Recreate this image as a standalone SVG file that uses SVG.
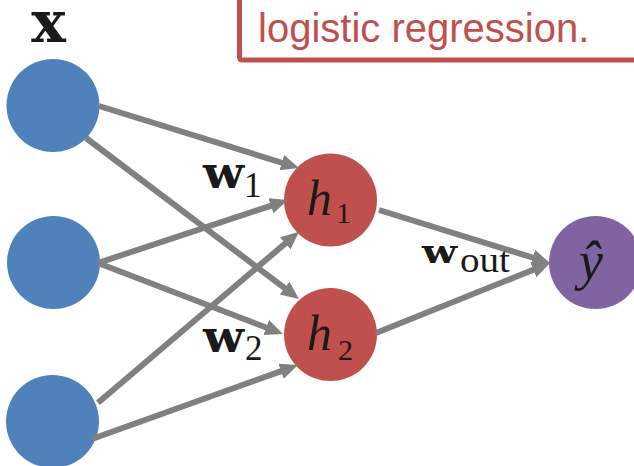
<svg xmlns="http://www.w3.org/2000/svg" width="634" height="466" viewBox="0 0 634 466">
<style>
.in{fill:#4f81bd}
.hid{fill:#c0504d}
.out{fill:#8064a2}
.edge{stroke:#808080;stroke-width:6;fill:none;marker-end:url(#arr)}
.bw{font-family:"DejaVu Serif",serif;font-weight:bold;fill:#1a1a1a}
.rm{font-family:"Liberation Serif",serif;fill:#1a1a1a}
.it{font-family:"Liberation Serif",serif;font-style:italic;fill:#1a1a1a}
</style>
<defs>
<marker id="arr" markerUnits="userSpaceOnUse" markerWidth="20" markerHeight="18" refX="6" refY="8" orient="auto">
<path d="M0,0 L18,8 L0,16 Z" fill="#808080"/>
</marker>
</defs>
<rect width="634" height="466" fill="#fff"/>
<g id="note">
<path d="M239.5,-5 V57 Q239.5,60 242.5,60 H640" fill="none" stroke="#c0504d" stroke-width="5"/>
<text x="258" y="42" font-family="Liberation Sans, Arial, sans-serif" font-size="40" fill="#c0504d">logistic regression.</text>
</g>
<g id="x-label"><text class="bw" x="48.5" y="42" font-size="58" text-anchor="middle">x</text></g>
<g id="x1"><circle class="in" cx="53" cy="105.5" r="46.5"/></g>
<g id="x2"><circle class="in" cx="53.5" cy="262.5" r="46.5"/></g>
<g id="x3"><circle class="in" cx="52.5" cy="421.5" r="46.5"/></g>
<g id="h1"><circle class="hid" cx="330.5" cy="200" r="46.5"/>
<text class="it" x="307" y="215" font-size="50">h</text><text class="rm" x="336" y="223" font-size="30">1</text></g>
<g id="h2"><circle class="hid" cx="330.5" cy="334.5" r="46.5"/>
<text class="it" x="307" y="350" font-size="50">h</text><text class="rm" x="338" y="360" font-size="30">2</text></g>
<g id="yhat"><circle class="out" cx="595.5" cy="262.5" r="46.5"/>
<text class="it" x="591" y="279" font-size="54" text-anchor="middle">ŷ</text></g>
<g id="connectors">
<path class="edge" d="M99,106 L287.5,164.5"/>
<path class="edge" d="M86,138 L289.4,291.7"/>
<path class="edge" d="M98,263 L276.6,203.8"/>
<path class="edge" d="M98,263 L271.8,329.7"/>
<path class="edge" d="M98,402.7 L289.9,239.5"/>
<path class="edge" d="M92,439 L286.7,369.1"/>
<path class="edge" d="M379,210 L538.5,259.4"/>
<path class="edge" d="M376,333 L538.9,267.5"/>
</g>
<g id="labels">
<text class="bw" x="203" y="188" font-size="44" textLength="41" lengthAdjust="spacingAndGlyphs">w</text>
<text class="rm" x="244" y="197" font-size="35">1</text>
<text class="bw" x="203" y="352" font-size="44" textLength="41" lengthAdjust="spacingAndGlyphs">w</text>
<text class="rm" x="245" y="360" font-size="35">2</text>
<text class="bw" x="422" y="263" font-size="32" textLength="35" lengthAdjust="spacingAndGlyphs">w</text>
<text class="rm" x="460" y="272" font-size="36" textLength="50" lengthAdjust="spacingAndGlyphs">out</text>
</g>
</svg>
